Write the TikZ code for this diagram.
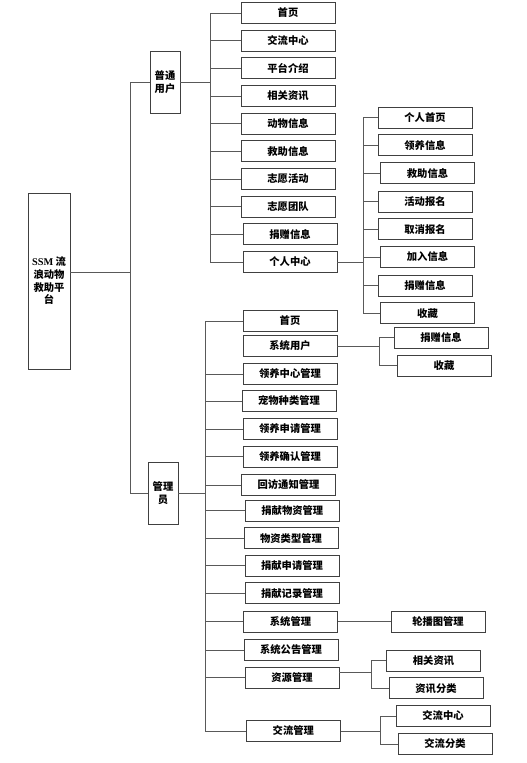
\documentclass[tikz,border=0pt]{standalone}
\usepackage{fontspec}
\newfontfamily\cjk{Noto Sans CJK SC}
\newfontfamily\serifl{Liberation Serif}
\begin{document}
\begin{tikzpicture}[x=1pt,y=-1pt,
  box/.style={draw=black!75, line width=0.9pt, minimum width=94pt, minimum height=21pt, inner sep=0pt, font=\cjk\bfseries\fontsize{10.3}{11}\selectfont},
  tall/.style={draw=black!75, line width=0.9pt, minimum width=30pt, minimum height=62pt, inner sep=0pt, align=center, font=\cjk\bfseries\fontsize{10.3}{12.7}\selectfont},
  ln/.style={draw=black!65, line width=0.9pt}]
\useasboundingbox (0,0) rectangle (527,763);
% root
\node[draw=black!75, line width=0.9pt, minimum width=42pt, minimum height=176pt, inner sep=0pt, align=center, font=\cjk\bfseries\fontsize{10.3}{12.7}\selectfont] (root) at (49,281) {{\serifl SSM} 流\\浪动物\\救助平\\台};
\coordinate (j0) at (130,272);
\coordinate (vx) at (130,0);
\node[tall] (pu) at (165,82) {普通\\用户};
\node[tall] (gl) at (163,493) {管理\\员};
\draw[ln] (root.east |- j0) -- (j0);
\draw[ln] (vx |- pu.west) -- (vx |- gl.west);
\draw[ln] (vx |- pu.west) -- (pu.west);
\draw[ln] (vx |- gl.west) -- (gl.west);
% user children
\node[box] (u1) at (288,13) {首页};
\node[box] (u2) at (288,40.7) {交流中心};
\node[box] (u3) at (288,68.3) {平台介绍};
\node[box] (u4) at (288,96) {相关资讯};
\node[box] (u5) at (288,123.7) {动物信息};
\node[box] (u6) at (288,151.3) {救助信息};
\node[box] (u7) at (288,179) {志愿活动};
\node[box] (u8) at (288,206.7) {志愿团队};
\node[box] (u9) at (290,234.3) {捐赠信息};
\node[box] (u10) at (290,262) {个人中心};
\coordinate (ux) at (210,0);
\draw[ln] (pu.east) -- (pu.east -| ux);
\draw[ln] (ux |- u1.west) -- (ux |- u10.west);
\foreach \n in {u1,u2,u3,u4,u5,u6,u7,u8,u9,u10} {\draw[ln] (ux |- \n.west) -- (\n.west);}
% personal center children
\node[box] (p1) at (425,117.7) {个人首页};
\node[box] (p2) at (425,145.3) {领养信息};
\node[box] (p3) at (427.5,173.3) {救助信息};
\node[box] (p4) at (425,201.7) {活动报名};
\node[box] (p5) at (425,229.3) {取消报名};
\node[box] (p6) at (427.5,257) {加入信息};
\node[box] (p7) at (425,285.7) {捐赠信息};
\node[box] (p8) at (427.5,313.3) {收藏};
\coordinate (px) at (363,0);
\draw[ln] (u10.east) -- (u10.east -| px);
\draw[ln] (px |- p1.west) -- (px |- p8.west);
\foreach \n in {p1,p2,p3,p4,p5,p6,p7,p8} {\draw[ln] (px |- \n.west) -- (\n.west);}
% admin children
\node[box] (a1) at (290,321) {首页};
\node[box] (a2) at (290,346) {系统用户};
\node[box] (a3) at (290,374) {领养中心管理};
\node[box] (a4) at (289,401) {宠物种类管理};
\node[box] (a5) at (290,429) {领养申请管理};
\node[box] (a6) at (290,456.7) {领养确认管理};
\node[box] (a7) at (288.5,485) {回访通知管理};
\node[box] (a8) at (292.3,510.7) {捐献物资管理};
\node[box] (a9) at (291,538.3) {物资类型管理};
\node[box] (a10) at (292,565.7) {捐献申请管理};
\node[box] (a11) at (292,593.3) {捐献记录管理};
\node[box] (a12) at (290.5,621.7) {系统管理};
\node[box] (a13) at (291,650) {系统公告管理};
\node[box] (a14) at (292,677.7) {资源管理};
\node[box] (a15) at (293.3,731) {交流管理};
\coordinate (ax) at (205,0);
\draw[ln] (gl.east) -- (gl.east -| ax);
\draw[ln] (ax |- a1.west) -- (ax |- a15.west);
\foreach \n in {a1,a3,a4,a5,a6,a7,a8,a9,a10,a11,a12,a13,a14,a15} {\draw[ln] (ax |- \n.west) -- (\n.west);}
% system users children
\node[box] (s1) at (441,337.7) {捐赠信息};
\node[box] (s2) at (444,365.7) {收藏};
\coordinate (sx) at (379,0);
\draw[ln] (a2.east) -- (a2.east -| sx);
\draw[ln] (sx |- s1.west) -- (sx |- s2.west);
\draw[ln] (sx |- s1.west) -- (s1.west);
\draw[ln] (sx |- s2.west) -- (s2.west);
% system management child
\node[box] (m1) at (438,621.7) {轮播图管理};
\draw[ln] (a12.east) -- (m1.west);
% resource management children
\node[box] (r1) at (433.5,660.7) {相关资讯};
\node[box] (r2) at (436,688.3) {资讯分类};
\coordinate (rx) at (371,0);
\coordinate (rj) at (371,672.7);
\draw[ln] (a14.east |- rj) -- (rj);
\draw[ln] (rx |- r1.west) -- (rx |- r2.west);
\draw[ln] (rx |- r1.west) -- (r1.west);
\draw[ln] (rx |- r2.west) -- (r2.west);
% communication management children
\node[box] (c1) at (443,716) {交流中心};
\node[box] (c2) at (445,744) {交流分类};
\coordinate (cx) at (380,0);
\draw[ln] (a15.east) -- (a15.east -| cx);
\draw[ln] (cx |- c1.west) -- (cx |- c2.west);
\draw[ln] (cx |- c1.west) -- (c1.west);
\draw[ln] (cx |- c2.west) -- (c2.west);
\end{tikzpicture}
\end{document}
